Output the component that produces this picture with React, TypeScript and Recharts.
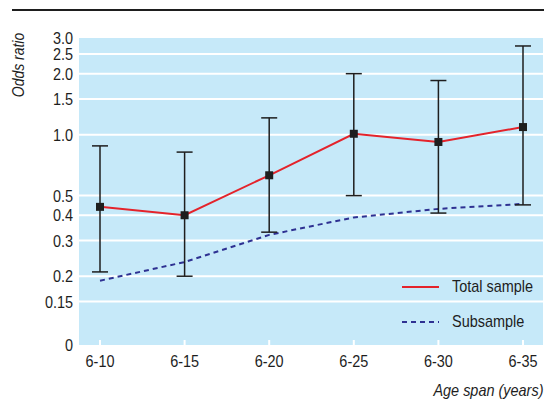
import { LineChart, Line, XAxis, YAxis, CartesianGrid, ErrorBar } from 'recharts';

const categories = ['6-10', '6-15', '6-20', '6-25', '6-30', '6-35'];
const totalSample = [0.44, 0.4, 0.63, 1.01, 0.92, 1.09];
const totalLow = [0.21, 0.2, 0.33, 0.5, 0.41, 0.45];
const totalHigh = [0.88, 0.82, 1.21, 2.0, 1.85, 2.74];
const subsample = [0.19, 0.235, 0.32, 0.39, 0.43, 0.455];
// bottom of the log axis is labelled "0"
const yFloor = 0.0915;
const yTicks = [yFloor, 0.15, 0.2, 0.3, 0.4, 0.5, 1.0, 1.5, 2.0, 2.5, 3.0];

const data = categories.map((c, i) => ({
  span: c,
  total: totalSample[i],
  err: [totalSample[i] - totalLow[i], totalHigh[i] - totalSample[i]],
  sub: subsample[i],
}));

const FONT = "'Liberation Sans', Arial, sans-serif";
const FS = 17;
const SQUEEZE = 0.85; // the original uses a condensed face
const BG = '#c6e9f9';
const RED = '#e4232b';
const BLUE = '#2e3192';
const INK = '#1e1e1e';

const fmtY = (v: number) => (v < 0.1 ? '0' : v >= 1 ? v.toFixed(1) : String(v));

const SquareDot = (props: any) => {
  const { cx, cy, index } = props;
  return <rect key={`dot-${index}`} x={cx - 4} y={cy - 4} width={8} height={8} fill={INK} />;
};

const XTick = (props: any) => {
  const { x, y, payload } = props;
  return (
    <text
      transform={`translate(${x},${y}) scale(${SQUEEZE},1)`}
      textAnchor="middle"
      dy="0.71em"
      fontSize={FS}
      fontFamily={FONT}
      fill={INK}
    >
      {payload.value}
    </text>
  );
};

const YTick = (props: any) => {
  const { x, y, payload } = props;
  return (
    <text
      transform={`translate(${x},${y}) scale(${SQUEEZE},1)`}
      textAnchor="end"
      dy="0.355em"
      fontSize={FS}
      fontFamily={FONT}
      fill={INK}
    >
      {fmtY(payload.value)}
    </text>
  );
};

function LegendOverlay() {
  const row = (top: number, stroke: string, dash: string | undefined, label: string) => (
    <div style={{ position: 'absolute', left: 400, top, height: 20, display: 'flex', alignItems: 'center' }}>
      <svg width={52} height={10}>
        <line x1={2} y1={5} x2={39} y2={5} stroke={stroke} strokeWidth={2} strokeDasharray={dash} />
      </svg>
      <span
        style={{
          fontSize: FS,
          color: INK,
          whiteSpace: 'nowrap',
          transform: `scaleX(${SQUEEZE})`,
          transformOrigin: 'left center',
        }}
      >
        {label}
      </span>
    </div>
  );
  return (
    <>
      {row(277, RED, undefined, 'Total sample')}
      {row(312, BLUE, '5 4', 'Subsample')}
    </>
  );
}

export default function App() {
  return (
    <div style={{ position: 'relative', width: 544, height: 403, background: '#fff', fontFamily: FONT }}>
      <style>{'body{margin:0}'}</style>
      <div style={{ position: 'absolute', left: 12, top: 9, width: 532, height: 2, background: INK }} />
      <LineChart
        width={544}
        height={403}
        data={data}
        margin={{ top: 38, right: 1, left: 0, bottom: 0 }}
      >
        <CartesianGrid
          vertical={false}
          stroke="#fff"
          strokeWidth={2}
          fill={BG}
          horizontalValues={yTicks.slice(1, -1)}
        />
        <XAxis
          dataKey="span"
          scale="point"
          padding={{ left: 21, right: 20 }}
          axisLine={false}
          tickLine={{ stroke: '#fff', strokeWidth: 2 }}
          tickSize={-5}
          tickMargin={15}
          height={58}
          tick={<XTick />}
        />
        <YAxis
          scale="log"
          domain={[yFloor, 3]}
          allowDataOverflow
          ticks={yTicks}
          axisLine={false}
          tickLine={false}
          tickSize={0}
          tickMargin={6}
          width={79}
          interval={0}
          tick={<YTick />}
        />
        <Line
          dataKey="sub"
          stroke={BLUE}
          strokeWidth={2}
          strokeDasharray="5 4"
          dot={false}
          isAnimationActive={false}
        />
        <Line
          dataKey="total"
          stroke={RED}
          strokeWidth={2}
          dot={SquareDot}
          isAnimationActive={false}
        >
          <ErrorBar dataKey="err" direction="y" width={8} stroke={INK} strokeWidth={1.5} />
        </Line>
      </LineChart>
      <LegendOverlay />
      <div
        style={{
          position: 'absolute',
          left: 19,
          top: 65,
          transform: 'translate(-50%, -50%) rotate(-90deg) scaleX(0.82)',
          fontStyle: 'italic',
          fontSize: FS,
          color: INK,
          whiteSpace: 'nowrap',
        }}
      >
        Odds ratio
      </div>
      <div
        style={{
          position: 'absolute',
          right: 1,
          top: 381,
          fontStyle: 'italic',
          fontSize: FS,
          color: INK,
          whiteSpace: 'nowrap',
          transform: `scaleX(${SQUEEZE})`,
          transformOrigin: 'right center',
        }}
      >
        Age span (years)
      </div>
    </div>
  );
}
